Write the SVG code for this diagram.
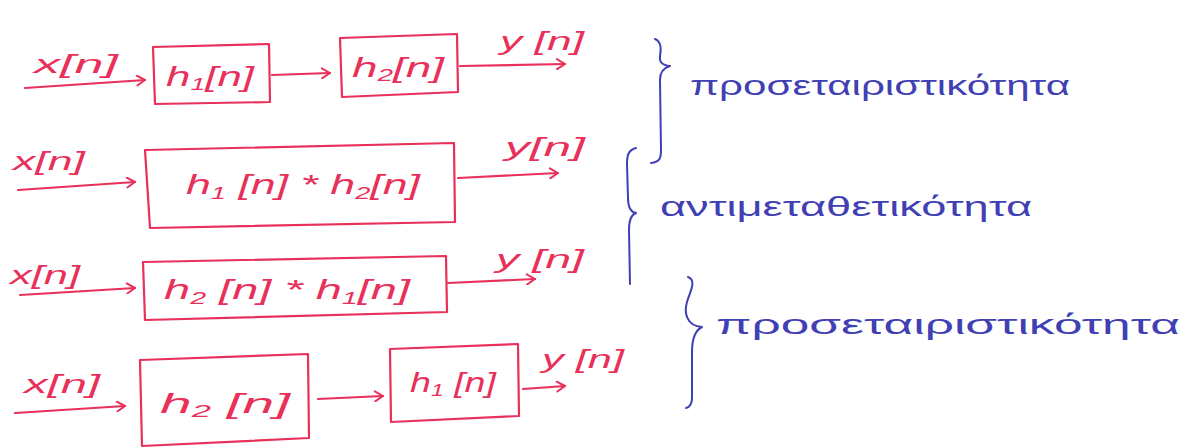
<svg xmlns="http://www.w3.org/2000/svg" width="1188" height="448" viewBox="0 0 1188 448">
  <defs>
    <marker id="arr" viewBox="0 0 12 12" refX="10" refY="6" markerWidth="12" markerHeight="12" markerUnits="userSpaceOnUse" orient="auto">
      <path d="M2,1 L10,6 L2,11" fill="none" stroke="#e8305a" stroke-width="2" stroke-linecap="round" stroke-linejoin="round"/>
    </marker>
    <style>
      .box { fill: none; stroke: #e8305a; stroke-width: 2.2; stroke-linejoin: round; }
      .wire { fill: none; stroke: #e8305a; stroke-width: 2.2; stroke-linecap: round; marker-end: url(#arr); }
      .lbl { fill: #e8305a; font-family: "Liberation Sans", "DejaVu Sans", sans-serif; font-style: italic; }
      .sig { font-size: 26px; }
      .fn { font-size: 28px; }
      .brace { fill: none; stroke: #4040b4; stroke-width: 2; stroke-linecap: round; stroke-linejoin: round; }
      .note { fill: #4040b4; font-family: "Liberation Sans", "DejaVu Sans", sans-serif; font-size: 28px; }
    </style>
  </defs>
  <rect width="1188" height="448" fill="#ffffff"/>

  <!-- connectors -->
  <g id="connectors">
    <path class="wire" d="M25,88 L145,80"/>
    <path class="wire" d="M272,75 L330,73"/>
    <path class="wire" d="M460,66 L565,64"/>

    <path class="wire" d="M18,190 L135,182"/>
    <path class="wire" d="M458,178 L558,173"/>

    <path class="wire" d="M20,295 L135,288"/>
    <path class="wire" d="M448,283 L535,279"/>

    <path class="wire" d="M15,413 L125,406"/>
    <path class="wire" d="M318,399 L383,396"/>
    <path class="wire" d="M523,389 L565,386"/>
  </g>

  <!-- row 1: cascade h1 then h2 -->
  <g id="row1-in"><text class="lbl sig" x="34" y="73" textLength="84" lengthAdjust="spacingAndGlyphs">x[n]</text></g>
  <g id="row1-h1">
    <path class="box" d="M153,47 L269,44 L270,102 L155,104 Z"/>
    <text class="lbl fn" x="166" y="86" textLength="88" lengthAdjust="spacingAndGlyphs">h<tspan font-size="17" dy="4">1</tspan><tspan dy="-4">[n]</tspan></text>
  </g>
  <g id="row1-h2">
    <path class="box" d="M340,38 L457,34 L458,92 L342,97 Z"/>
    <text class="lbl fn" x="352" y="77" textLength="92" lengthAdjust="spacingAndGlyphs">h<tspan font-size="17" dy="4">2</tspan><tspan dy="-4">[n]</tspan></text>
  </g>
  <g id="row1-out"><text class="lbl sig" x="500" y="50" textLength="84" lengthAdjust="spacingAndGlyphs">y [n]</text></g>

  <!-- row 2: single convolution h1*h2 -->
  <g id="row2-in"><text class="lbl sig" x="13" y="170" textLength="72" lengthAdjust="spacingAndGlyphs">x[n]</text></g>
  <g id="row2-conv">
    <path class="box" d="M145,150 L454,143 L455,222 L150,228 Z"/>
    <text class="lbl fn" x="186" y="194" textLength="234" lengthAdjust="spacingAndGlyphs">h<tspan font-size="17" dy="5">1</tspan><tspan dy="-5"> [n] * h</tspan><tspan font-size="17" dy="5">2</tspan><tspan dy="-5">[n]</tspan></text>
  </g>
  <g id="row2-out"><text class="lbl sig" x="505" y="156" textLength="80" lengthAdjust="spacingAndGlyphs">y[n]</text></g>

  <!-- row 3: single convolution h2*h1 -->
  <g id="row3-in"><text class="lbl sig" x="10" y="284" textLength="70" lengthAdjust="spacingAndGlyphs">x[n]</text></g>
  <g id="row3-conv">
    <path class="box" d="M143,262 L446,256 L447,312 L145,320 Z"/>
    <text class="lbl fn" x="164" y="299" textLength="246" lengthAdjust="spacingAndGlyphs">h<tspan font-size="17" dy="5">2</tspan><tspan dy="-5"> [n] * h</tspan><tspan font-size="17" dy="5">1</tspan><tspan dy="-5">[n]</tspan></text>
  </g>
  <g id="row3-out"><text class="lbl sig" x="496" y="268" textLength="88" lengthAdjust="spacingAndGlyphs">y [n]</text></g>

  <!-- row 4: cascade h2 then h1 -->
  <g id="row4-in"><text class="lbl sig" x="24" y="393" textLength="76" lengthAdjust="spacingAndGlyphs">x[n]</text></g>
  <g id="row4-h2">
    <path class="box" d="M140,360 L308,354 L309,438 L142,446 Z"/>
    <text class="lbl fn" x="160" y="413" textLength="130" lengthAdjust="spacingAndGlyphs">h<tspan font-size="17" dy="4">2</tspan><tspan dy="-4"> [n]</tspan></text>
  </g>
  <g id="row4-h1">
    <path class="box" d="M390,349 L518,344 L519,416 L391,422 Z"/>
    <text class="lbl fn" x="410" y="392" textLength="86" lengthAdjust="spacingAndGlyphs">h<tspan font-size="17" dy="4">1</tspan><tspan dy="-4"> [n]</tspan></text>
  </g>
  <g id="row4-out"><text class="lbl sig" x="542" y="368" textLength="82" lengthAdjust="spacingAndGlyphs">y [n]</text></g>

  <!-- property annotations -->
  <g id="assoc-top">
    <path class="brace" d="M655,39 C662,42 661,50 660,56 C659,62 662,65 670,66 C663,68 660,72 660,80 L661,150 C661,158 660,162 651,163"/>
    <text class="note" x="690" y="95" textLength="380" lengthAdjust="spacingAndGlyphs">προσεταιριστικότητα</text>
  </g>
  <g id="commut">
    <path class="brace" d="M636,148 C628,150 627,156 627,164 L628,198 C628,206 630,212 636,213 C630,215 629,222 629,230 L630,284"/>
    <text class="note" x="660" y="216" textLength="372" lengthAdjust="spacingAndGlyphs">αντιμεταθετικότητα</text>
  </g>
  <g id="assoc-bottom">
    <path class="brace" d="M688,277 C697,280 690,292 687,302 C684,312 686,326 702,327 C694,331 692,340 692,352 L692,398 C692,404 690,407 686,408"/>
    <text class="note" x="716" y="334" textLength="464" lengthAdjust="spacingAndGlyphs">προσεταιριστικότητα</text>
  </g>
</svg>
